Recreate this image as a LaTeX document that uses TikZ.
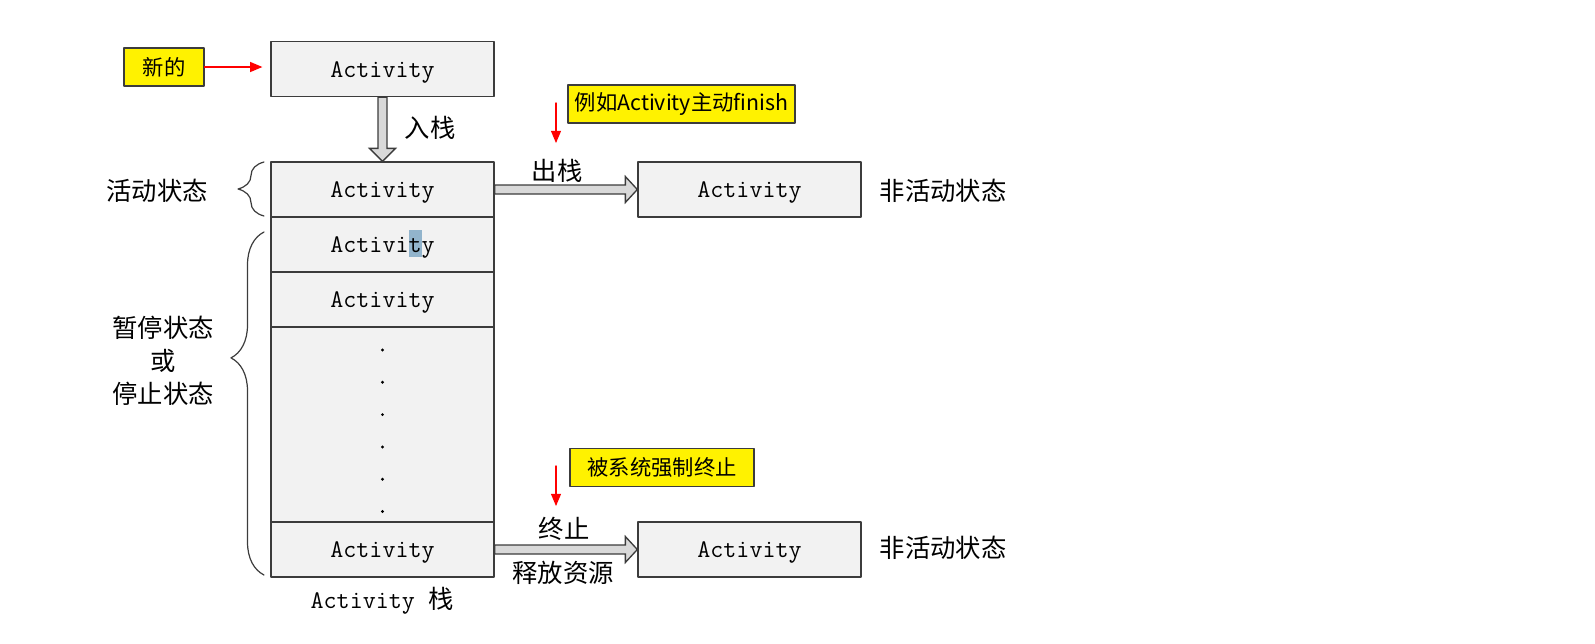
\documentclass[tikz,border=0pt]{standalone}
\usepackage{fontspec}
\newfontfamily\cjk{Noto Sans CJK SC}
\usetikzlibrary{arrows,calc,decorations.pathreplacing}
\definecolor{boxgray}{RGB}{242,242,242}
\definecolor{arrowgray}{RGB}{217,217,217}
\definecolor{edgegray}{RGB}{60,60,60}
\definecolor{selblue}{RGB}{146,180,204}
\tikzset{
  actbox/.style={draw=edgegray,fill=boxgray,line width=1pt,minimum width=167.25pt,minimum height=41.25pt,inner sep=0pt,text height=15.2pt,text depth=3pt,font=\ttfamily\fontsize{19}{19}\selectfont},
  notebox/.style={draw=edgegray,fill=yellow,line width=0.9pt,minimum height=28.5pt,inner sep=0pt,font=\cjk\fontsize{16}{16}\selectfont},
  lbl/.style={inner sep=0pt,align=center,font=\cjk\fontsize{19}{24.75}\selectfont},
  fatarrow/.style={draw=edgegray,fill=arrowgray,line width=1pt,line join=miter},
  redarrow/.style={->,red,line width=1.1pt},
  bracket/.style={draw=edgegray,line width=0.9pt,decorate},
}
\begin{document}
\begin{tikzpicture}[line cap=round,line join=round,>=triangle 45,x=0.75pt,y=-0.75pt]
\useasboundingbox (0,0) rectangle (1595,643);

% new activity
\node[notebox,minimum width=60pt] (new) at (164,67) {新的};
\node[actbox] (top) at (382.5,69) {Activity};
\draw[redarrow,shorten >=6pt] (new.east) -- (new.east -| top.west);

% the stack
\node[actbox] (s1) at (382.5,189.5) {Activity};
\node[actbox] (s2) at (382.5,244.5) {Activi\smash{\rlap{\color{selblue}\rule[-0.16em]{0.525em}{1.06em}}}ty};
\node[actbox] (s3) at (382.5,299.5) {Activity};
\node[actbox,minimum height=146.25pt] (dots) at (382.5,424.5) {};
\node[actbox] (s4) at (382.5,549.5) {Activity};
\foreach \i in {0,...,5}
  \fill (382.5,350+32.3*\i) circle (1.2pt);
\node[font=\ttfamily\fontsize{19}{19}\selectfont] (stackname) at (382,601) {Activity {\cjk 栈}};

% push
\draw[fatarrow] ($(top.south)+(-4.5,0)$) -- ($(s1.north)+(-4.5,-13)$) -- ($(s1.north)+(-13,-13)$) -- (s1.north)
  -- ($(s1.north)+(13,-13)$) -- ($(s1.north)+(4.5,-13)$) -- ($(top.south)+(4.5,0)$) -- cycle;
\node[lbl] (push) at (430,128) {入栈};

% finished activity
\node[actbox] (o1) at (749.5,189.5) {Activity};
\draw[fatarrow] ($(s1.east)+(0,-4.5)$) -- ($(o1.west)+(-12,-4.5)$) -- ($(o1.west)+(-12,-13)$) -- (o1.west)
  -- ($(o1.west)+(-12,13)$) -- ($(o1.west)+(-12,4.5)$) -- ($(s1.east)+(0,4.5)$) -- cycle;
\node[lbl] (pop) at (557,171) {出栈};
\node[lbl] (off1) at (943,191) {非活动状态};
\node[notebox,minimum width=170.25pt] (finish) at (681.5,104) {例如Activity主动finish};
\coordinate (f1) at (556,103);
\coordinate (f2) at (556,143);
\draw[redarrow] (f1) -- (f2);

% killed activity
\node[actbox] (o2) at (749.5,549.5) {Activity};
\draw[fatarrow] ($(s4.east)+(0,-4.5)$) -- ($(o2.west)+(-12,-4.5)$) -- ($(o2.west)+(-12,-13)$) -- (o2.west)
  -- ($(o2.west)+(-12,13)$) -- ($(o2.west)+(-12,4.5)$) -- ($(s4.east)+(0,4.5)$) -- cycle;
\node[lbl] (kill) at (564,529) {终止};
\node[lbl] (free) at (563,573) {释放资源};
\node[lbl] (off2) at (943,548) {非活动状态};
\node[notebox,minimum width=138pt] (forced) at (662,467.5) {被系统强制终止};
\coordinate (k1) at (556,466);
\coordinate (k2) at (556,506);
\draw[redarrow] (k1) -- (k2);

% states
\draw[bracket,decoration={brace,amplitude=19.5pt}] (264,216) -- (264,162);
\node[lbl] (act) at (157,191) {活动状态};
\draw[bracket,decoration={brace,amplitude=24.75pt,aspect=0.633}] (264,575) -- (264,232);
\node[lbl] (pause) at (163,361) {暂停状态\\或\\停止状态};
\end{tikzpicture}
\end{document}
